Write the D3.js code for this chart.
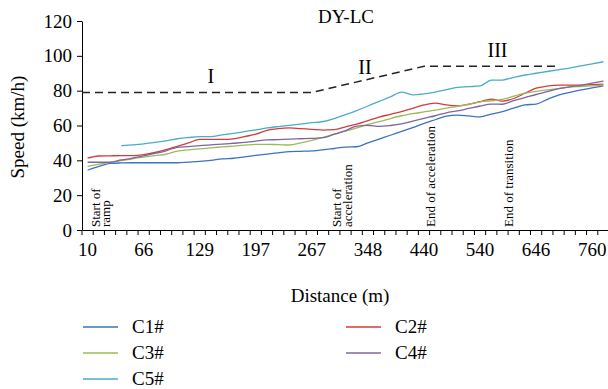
<!DOCTYPE html>
<html>
<head>
<meta charset="utf-8">
<script src="https://cdn.jsdelivr.net/npm/d3@7"></script>
<style>
  html, body { margin: 0; padding: 0; background: #fff; }
  svg { display: block; font-family: "Liberation Serif", "DejaVu Serif", serif; }
  .axis path, .axis line { stroke: #000; stroke-width: 1; }
  .axis text { font-family: "Liberation Serif", serif; font-size: 19px; fill: #000; }
</style>
</head>
<body>
<div class="chart"></div>
<script>
// distance categories (m), labelled every 5th
const distances = [
  10, 21, 32, 44, 55, 66, 79, 91, 104, 116,
  129, 143, 156, 170, 183, 197, 211, 225, 239, 253,
  267, 283, 299, 316, 332, 348, 366, 385, 403, 422,
  440, 460, 480, 500, 520, 540, 561, 582, 604, 625,
  646, 669, 692, 714, 737, 760, 783
];
const tickLabels = [10, 66, 129, 197, 267, 348, 440, 540, 646, 760];
const speedTicks = [0, 20, 40, 60, 80, 100, 120];

const seriesNames = ['C1#', 'C2#', 'C3#', 'C4#', 'C5#'];

const c1 = [
  34.3, 36.5, 38.2, 38.5, 38.6, 38.6, 38.6, 38.6, 38.6, 39.0,
  39.4, 40.0, 40.8, 41.2, 42.0, 42.8, 43.6, 44.3, 45.0, 45.2,
  45.4, 46.0, 46.8, 47.6, 47.8, 50.0, 52.2, 54.4, 56.6, 58.8,
  61.2, 63.3, 65.4, 66.0, 65.5, 65.0, 66.5, 68.0, 70.0, 71.8,
  72.3, 75.0, 77.5, 79.0, 80.4, 81.6, 82.7
];
const c2 = [
  41.2, 42.5, 42.6, 42.7, 42.7, 43.3, 44.5, 46.2, 48.0, 50.0,
  52.0, 52.0, 52.0, 52.3, 53.6, 55.0, 57.2, 58.2, 58.6, 58.2,
  57.8, 57.4, 57.6, 59.2, 60.8, 62.8, 64.8, 66.4, 68.0, 69.9,
  71.8, 72.8, 71.8, 71.3, 72.2, 73.7, 75.2, 74.0, 75.5, 78.5,
  81.4, 82.6, 83.2, 83.2, 83.2, 83.5, 83.8
];
const c3 = [
  36.5, 37.8, 38.8, 39.8, 40.9, 41.8, 42.7, 43.5, 45.3, 46.0,
  46.6, 47.2, 47.7, 48.2, 48.7, 49.2, 49.2, 49.0, 48.8, 50.0,
  51.5, 53.2, 55.0, 56.8, 58.6, 60.6, 62.2, 64.0, 65.6, 66.8,
  67.8, 68.8, 70.0, 71.0, 72.2, 73.6, 74.2, 75.0, 76.8, 78.6,
  79.6, 80.5, 81.2, 82.0, 82.4, 82.8, 83.2
];
const c4 = [
  38.9, 38.9, 38.9, 40.2, 41.3, 42.6, 44.0, 45.5, 47.5, 47.9,
  48.5, 48.9, 49.3, 49.8, 50.3, 51.0, 51.7, 51.9, 52.2, 52.4,
  52.6, 53.0, 55.0, 57.0, 59.7, 60.1, 59.5, 60.0, 60.9, 62.5,
  64.1, 65.6, 67.3, 68.4, 69.8, 71.2, 72.3, 72.2, 74.3, 76.0,
  77.8, 79.4, 81.2, 82.2, 83.1, 84.3, 85.5
];
const c5 = [
  null, null, null, 48.4, 48.9, 49.5, 50.3, 51.2, 52.4, 53.1,
  53.6, 53.6, 54.6, 55.5, 56.5, 57.5, 58.6, 59.4, 60.1, 60.8,
  61.6, 62.3, 64.0, 66.2, 68.6, 71.2, 73.8, 76.4, 79.2, 77.6,
  78.2, 79.2, 80.6, 81.9, 82.3, 82.7, 86.0, 86.1, 87.6, 89.0,
  90.0, 91.0, 92.0, 93.0, 94.2, 95.4, 96.6
];

// design speed guide (dashed) and section labels
const limitDistances = [10, 267, 440, 692];
const limitSpeeds = [79, 79, 94, 94];
const sectionNames = ['I', 'II', 'III'];
const markerNames = [['Start of', 'ramp'], ['Start of', 'acceleration'], ['End of acceleration'], ['End of transition']];
const markerDistances = [21, 316, 460, 604];

(function() {
  'use strict';

  let width = 608,
      height = 389,
      margin = { top: 21, right: 0, bottom: 159, left: 82 },
      colors = ['#3b73c2', '#d43b3b', '#9bbb59', '#8064a2', '#4bacc6'],
      series = [c1, c2, c3, c4, c5],

      svg = d3.select('.chart')
        .append('svg')
        .attr('width', width)
        .attr('height', height),

      x = d3.scaleBand()
        .domain(distances)
        .range([margin.left, 609]),

      y = d3.scaleLinear()
        .domain([0, 120])
        .range([height - margin.bottom, margin.top]),

      bw = x.bandwidth(),
      cx = d => x(d) + bw / 2;

  // y axis
  svg.append('g')
    .attr('class', 'axis')
    .attr('transform', `translate(${margin.left},0)`)
    .call(d3.axisLeft(y).tickValues(speedTicks).tickSize(5).tickSizeOuter(0).tickPadding(5));

  // x axis: labels only, ticks drawn on band edges below
  let y0 = y(0);
  svg.append('g')
    .attr('class', 'axis')
    .attr('transform', `translate(0,${y0})`)
    .call(d3.axisBottom(x).tickValues(tickLabels).tickSize(0).tickSizeOuter(0).tickPadding(13));

  svg.append('g')
    .selectAll('line')
    .data(distances.map(d => x(d)).concat([x.range()[1]]))
    .enter()
    .append('line')
      .attr('x1', d => d)
      .attr('x2', d => d)
      .attr('y1', y0)
      .attr('y2', y0 + 5)
      .attr('stroke', '#000');

  // dashed guide
  let guide = d3.line()
    .x((d, i) => i === 0 ? x(d[0]) : cx(d[0]))
    .y(d => y(d[1]));

  svg.append('path')
    .datum(limitDistances.map((d, i) => [d, limitSpeeds[i]]))
    .attr('d', guide)
    .attr('fill', 'none')
    .attr('stroke', '#222')
    .attr('stroke-width', 1.5)
    .attr('stroke-dasharray', '8,5');

  // section labels
  let sectionPos = [[143, 84.5, 0], [348, 89.8, -3], [582, 99.5, -5]];
  svg.selectAll('.section')
    .data(sectionNames)
    .enter()
    .append('text')
      .attr('class', 'section')
      .attr('x', (d, i) => cx(sectionPos[i][0]) + sectionPos[i][2])
      .attr('y', (d, i) => y(sectionPos[i][1]))
      .attr('text-anchor', 'middle')
      .style('font-size', '20px')
      .text(d => d);

  // series
  let line = d3.line()
    .defined(d => d[1] !== null)
    .x(d => cx(d[0]))
    .y(d => y(d[1]))
    .curve(d3.curveMonotoneX);

  series.forEach((s, k) => {
    svg.append('path')
      .datum(distances.map((d, i) => [d, s[i]]))
      .attr('d', line)
      .attr('fill', 'none')
      .attr('stroke', colors[k])
      .attr('stroke-width', 1.3);
  });

  // vertical markers text
  markerNames.forEach((lines, k) => {
    let bx = cx(markerDistances[k]) + (k === 0 ? 1 : k === 1 ? -4.5 : -0.5);
    lines.forEach((t, j) => {
      let tx = bx + j * 10.5;
      svg.append('text')
        .attr('transform', `translate(${tx},${y0 - 3}) rotate(-90)`)
        .style('font-size', '13px')
        .text(t);
    });
  });

  // title and axis titles
  svg.append('text')
    .attr('x', 346)
    .attr('y', 23)
    .attr('text-anchor', 'middle')
    .style('font-size', '19px')
    .text('DY-LC');

  svg.append('text')
    .attr('transform', 'translate(24,127) rotate(-90)')
    .attr('text-anchor', 'middle')
    .style('font-size', '19px')
    .text('Speed (km/h)');

  svg.append('text')
    .attr('x', 340)
    .attr('y', 302)
    .attr('text-anchor', 'middle')
    .style('font-size', '19px')
    .text('Distance (m)');

  // legend, two columns
  let legend = svg.selectAll('.legend')
    .data(seriesNames)
    .enter()
    .append('g')
      .attr('class', 'legend')
      .attr('transform', (d, i) => `translate(${i % 2 ? 346 : 83},${327 + Math.floor(i / 2) * 26})`);

  legend.append('line')
    .attr('x1', 0)
    .attr('x2', 35)
    .attr('stroke', (d, i) => colors[i])
    .attr('stroke-width', 1.5);

  legend.append('text')
    .attr('x', 49)
    .attr('y', 6)
    .style('font-size', '19px')
    .text(d => d);
})();
</script>
</body>
</html>
